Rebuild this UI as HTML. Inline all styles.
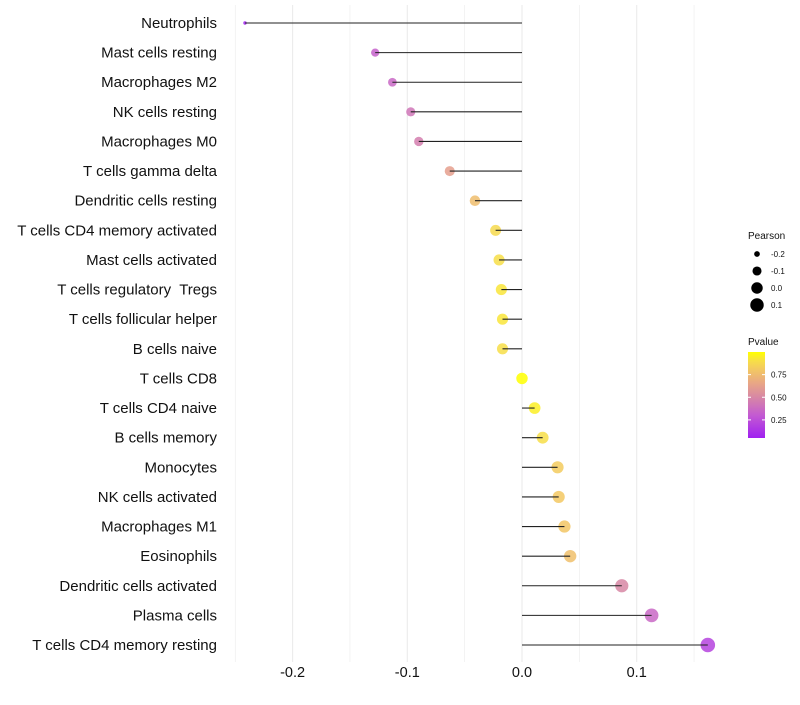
<!DOCTYPE html>
<html><head><meta charset="utf-8"><style>
body{margin:0;background:#fff;font-family:"Liberation Sans",sans-serif}
text{white-space:pre}
</style></head><body>
<svg id="c" width="800" height="700" xmlns="http://www.w3.org/2000/svg" font-family="Liberation Sans, sans-serif"></svg>
<script>
const categories=["Neutrophils","Mast cells resting","Macrophages M2","NK cells resting","Macrophages M0","T cells gamma delta","Dendritic cells resting","T cells CD4 memory activated","Mast cells activated","T cells regulatory  Tregs ","T cells follicular helper","B cells naive","T cells CD8","T cells CD4 naive","B cells memory","Monocytes","NK cells activated","Macrophages M1","Eosinophils","Dendritic cells activated","Plasma cells","T cells CD4 memory resting"];
const pearson=[-0.2415,-0.128,-0.113,-0.097,-0.090,-0.063,-0.041,-0.023,-0.020,-0.018,-0.017,-0.017,0.0,0.011,0.018,0.031,0.032,0.037,0.042,0.087,0.113,0.162];
const pvalues=[0.05,0.33,0.36,0.42,0.46,0.62,0.76,0.88,0.9,0.92,0.92,0.9,1.0,0.95,0.9,0.82,0.81,0.8,0.77,0.5,0.36,0.2];
const xTicks=[-0.2,-0.1,0.0,0.1];
const xTickLabels=["-0.2","-0.1","0.0","0.1"];
const sizeLegend=[-0.2,-0.1,0.0,0.1];
const colorTicks=[0.25,0.5,0.75];
const NS="http://www.w3.org/2000/svg",svg=document.getElementById('c');
function el(t,a,p){const e=document.createElementNS(NS,t);for(const k in a)e.setAttribute(k,a[k]);(p||svg).appendChild(e);return e;}
const x=v=>522+v*1147;
const y=i=>23+i*(622/21);
const vmin=Math.min(...pearson),vmax=Math.max(...pearson);
const r=v=>Math.sqrt(3+(v-vmin)/(vmax-vmin)*50);
const stops=[[0.05,[160,32,240]],[0.3,[195,90,210]],[0.5,[215,135,165]],[0.65,[232,165,135]],[0.8,[242,198,100]],[0.9,[247,222,72]],[1.0,[255,255,0]]];
function col(p){p=Math.max(0.05,Math.min(1,p));for(let k=1;k<stops.length;k++){if(p<=stops[k][0]){const [p0,c0]=stops[k-1],[p1,c1]=stops[k];const t=(p-p0)/(p1-p0);return `rgb(${c0.map((c,i)=>Math.round(c+(c1[i]-c)*t))})`;}}return 'rgb(255,255,0)';}
for(let v=-0.25;v<=0.151;v+=0.05){const g=el('line',{x1:x(v),x2:x(v),y1:5,y2:662,stroke:'#ebebeb','stroke-width':Math.abs(Math.round(v*20)%2)===1?0.6:1.1});}
categories.forEach((c,i)=>{
 const t=el('text',{x:217,y:y(i)+5,'text-anchor':'end','font-size':15,fill:'#111'});t.textContent=c.trimEnd();
 
 const d=el('circle',{cx:x(pearson[i]),cy:y(i),r:r(pearson[i]),fill:col(pvalues[i]),'fill-opacity':0.85});
 
 const l=el('line',{x1:x(0),x2:x(pearson[i]),y1:y(i),y2:y(i),stroke:'#222','stroke-width':1.1});
 
});
xTicks.forEach((v,i)=>{const t=el('text',{x:x(v),y:677,'text-anchor':'middle','font-size':14.5,fill:'#111'});t.textContent=xTickLabels[i];});
const lt=el('text',{x:748,y:239,'font-size':10,fill:'#111'});lt.textContent='Pearson';
sizeLegend.forEach((v,i)=>{const cy=254+i*17;const d=el('circle',{cx:757,cy:cy,r:r(v),fill:'#000'});
 const t=el('text',{x:771,y:cy+3,'font-size':8,fill:'#111'});t.textContent=v.toFixed(1);});
const ct=el('text',{x:748,y:345,'font-size':10,fill:'#111'});ct.textContent='Pvalue';
const defs=el('defs',{});const gr=el('linearGradient',{id:'g',x1:0,y1:1,x2:0,y2:0},defs);
for(let k=0;k<=19;k++){el('stop',{offset:k/19,'stop-color':col(0.05+k*0.05)},gr);}
const cb=el('rect',{x:748,y:352,width:17,height:86,fill:'url(#g)'});
const cy=p=>438-(p-0.05)/0.95*86;
colorTicks.forEach(p=>{el('line',{x1:748,x2:751,y1:cy(p),y2:cy(p),stroke:'#fff'});el('line',{x1:762,x2:765,y1:cy(p),y2:cy(p),stroke:'#fff'});
 const t=el('text',{x:771,y:cy(p)+3,'font-size':8,fill:'#111'});t.textContent=p.toFixed(2);});
</script>
</body></html>
